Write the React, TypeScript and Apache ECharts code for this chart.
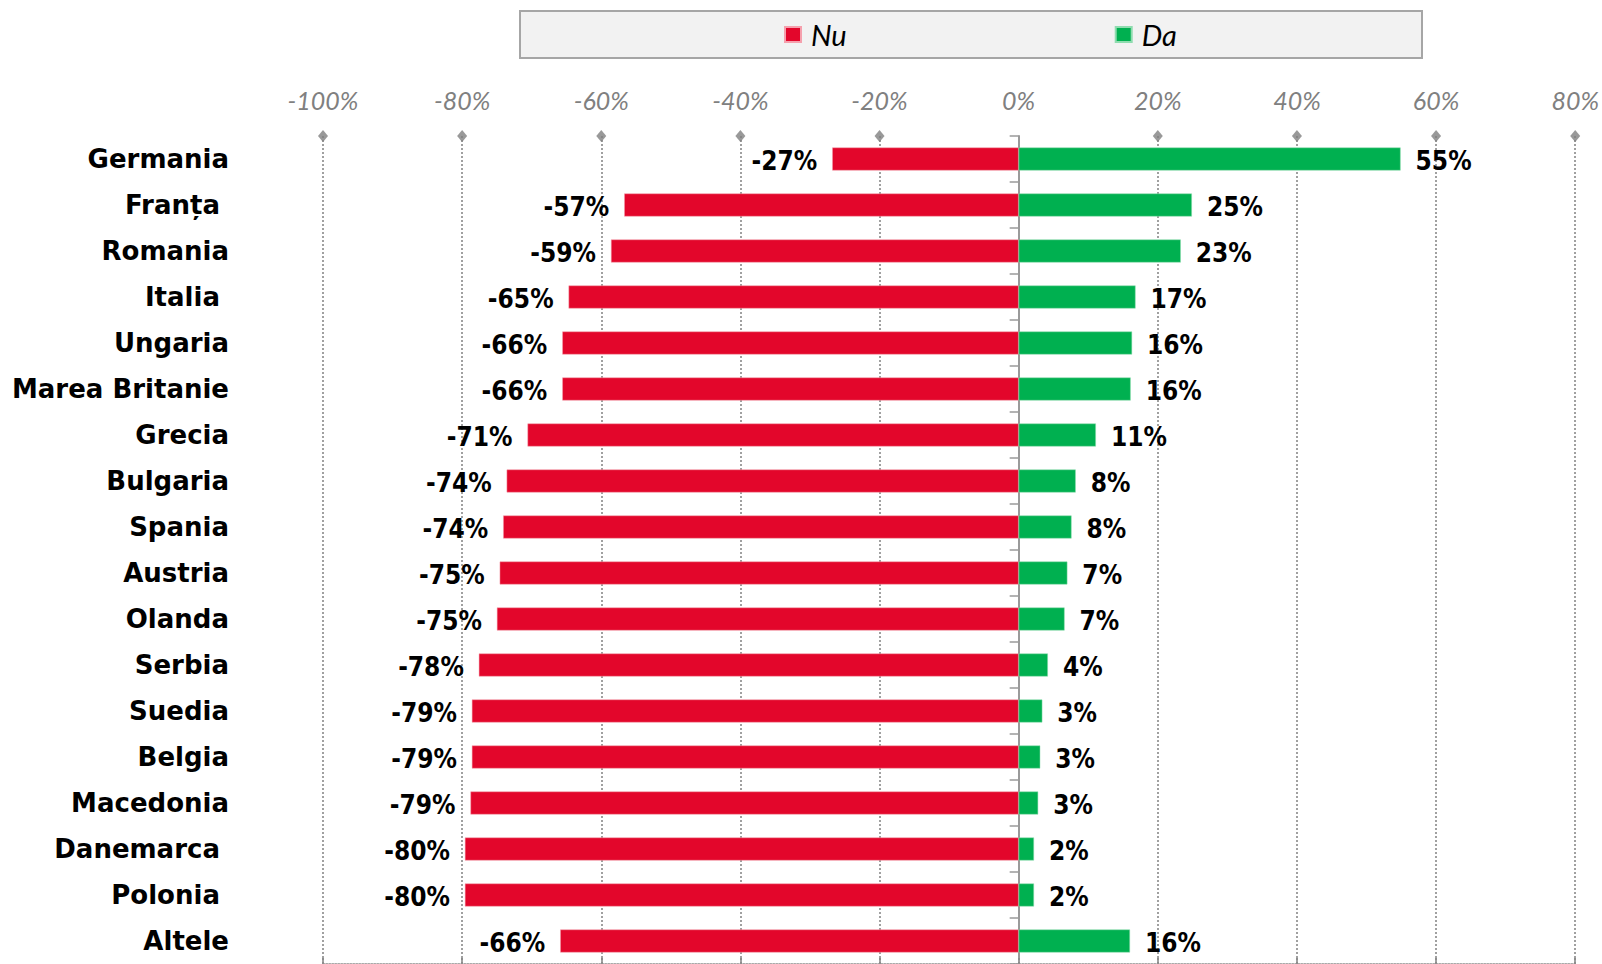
import React, { useEffect, useRef } from "react";
import * as echarts from "echarts";

const categories = [
  "Germania", "Franța ", "Romania", "Italia ", "Ungaria", "Marea Britanie", "Grecia",
  "Bulgaria", "Spania", "Austria", "Olanda", "Serbia", "Suedia", "Belgia",
  "Macedonia", "Danemarca ", "Polonia ", "Altele",
];
const nuValues = [
  -26.8, -56.7, -58.6, -64.7, -65.6, -65.6, -70.6, -73.6, -74.1, -74.6, -75.0,
  -77.6, -78.6, -78.6, -78.8, -79.6, -79.6, -65.9,
];
const daValues = [
  54.9, 24.9, 23.3, 16.8, 16.3, 16.1, 11.1, 8.2, 7.6, 7.0, 6.6, 4.2, 3.4, 3.1,
  2.8, 2.2, 2.2, 16.0,
];
const tickMarks = [-100, -80, -60, -40, -20, 20, 40, 60, 80];
const seriesNames = ["Nu", "Da"];

const RED = "#e3062b";
const GREEN = "#00b050";
const GRAY = "#8c8c8c";

export default function App() {
  const ref = useRef<HTMLDivElement>(null);
  useEffect(() => {
    if (!ref.current) return;
    const chart = echarts.init(ref.current, undefined, { renderer: "svg" });
    const labelFont = {
      fontFamily: "'DejaVu Sans Condensed', 'DejaVu Sans', sans-serif",
      fontWeight: "bold" as const,
      fontSize: 26,
      color: "#000",
    };
    chart.setOption({
      animation: false,
      backgroundColor: "#fff",
      graphic: [
        {
          type: "rect",
          z: 0,
          shape: { x: 520, y: 11, width: 902, height: 47 },
          style: { fill: "#f2f2f2", stroke: "#a6a6a6", lineWidth: 2 },
        },
      ],
      legend: {
        data: seriesNames,
        left: 784,
        top: 17,
        padding: 0,
        z: 10,
        itemGap: 268,
        itemWidth: 16,
        itemHeight: 15,
        icon: "rect",
        textStyle: {
          fontFamily: "Lato, 'Liberation Sans', sans-serif",
          fontStyle: "italic",
          fontSize: 29,
          lineHeight: 35,
          color: "#000",
          padding: [0, 0, 0, 5],
        },
      },
      grid: { left: 323, right: 23, top: 136, height: 832, containLabel: false },
      xAxis: {
        type: "value",
        position: "top",
        min: -100,
        max: 80,
        interval: 20,
        axisLine: { show: true, lineStyle: { color: GRAY, width: 1.5, type: "dotted" } },
        axisTick: { show: true, length: 8, lineStyle: { color: GRAY, width: 2, type: "dotted" } },
        splitLine: { show: true, lineStyle: { color: "#a0a0a0", width: 2, type: "dotted" } },
        axisLabel: {
          margin: 24,
          formatter: (v: number) => `${v}%`,
          fontFamily: "Lato, 'Liberation Sans', sans-serif",
          fontStyle: "italic",
          fontSize: 25,
          color: "#808080",
        },
      },
      yAxis: [
        {
          type: "category",
          data: categories,
          inverse: true,
          position: "left",
          axisLine: { show: false, onZero: false },
          axisTick: { show: false },
          axisLabel: {
            margin: 94,
            fontFamily: "'DejaVu Sans', sans-serif",
            fontWeight: "bold",
            fontSize: 26,
            color: "#000",
          },
        },
        {
          type: "category",
          data: categories,
          inverse: true,
          position: "left",
          axisLine: { show: true, onZero: true, lineStyle: { color: "#9a9a9a", width: 2 } },
          axisTick: { show: true, length: 9, lineStyle: { color: "#9a9a9a", width: 1.5 } },
          axisLabel: { show: false },
        },
        {
          type: "value",
          min: 0,
          max: 1,
          position: "right",
          show: false,
        },
      ],
      series: [
        {
          name: seriesNames[0],
          type: "bar",
          stack: "total",
          yAxisIndex: 0,
          data: nuValues,
          barWidth: 23,
          itemStyle: { color: RED, borderColor: "#f5a0ad", borderWidth: 0.5 },
          label: {
            show: true,
            position: "left",
            distance: 15,
            offset: [0, 2],
            formatter: (p: any) => `${Math.round(p.value)}%`,
            ...labelFont,
          },
        },
        {
          name: seriesNames[1],
          type: "bar",
          stack: "total",
          yAxisIndex: 0,
          data: daValues,
          barWidth: 23,
          itemStyle: { color: GREEN, borderColor: "#8fdcaf", borderWidth: 0.5 },
          label: {
            show: true,
            position: "right",
            distance: 15,
            offset: [0, 2],
            formatter: (p: any) => `${Math.round(p.value)}%`,
            ...labelFont,
          },
        },
        {
          type: "scatter",
          yAxisIndex: 2,
          data: tickMarks.map((t) => [t, 1]),
          symbol: "diamond",
          symbolSize: [10, 12],
          clip: false,
          silent: true,
          z: 5,
          itemStyle: { color: "#7f7f7f" },
        },
      ],
    });
    return () => chart.dispose();
  }, []);
  return (
    <div
      ref={ref}
      style={{ position: "fixed", left: 0, top: 0, width: 1602, height: 964 }}
    />
  );
}
